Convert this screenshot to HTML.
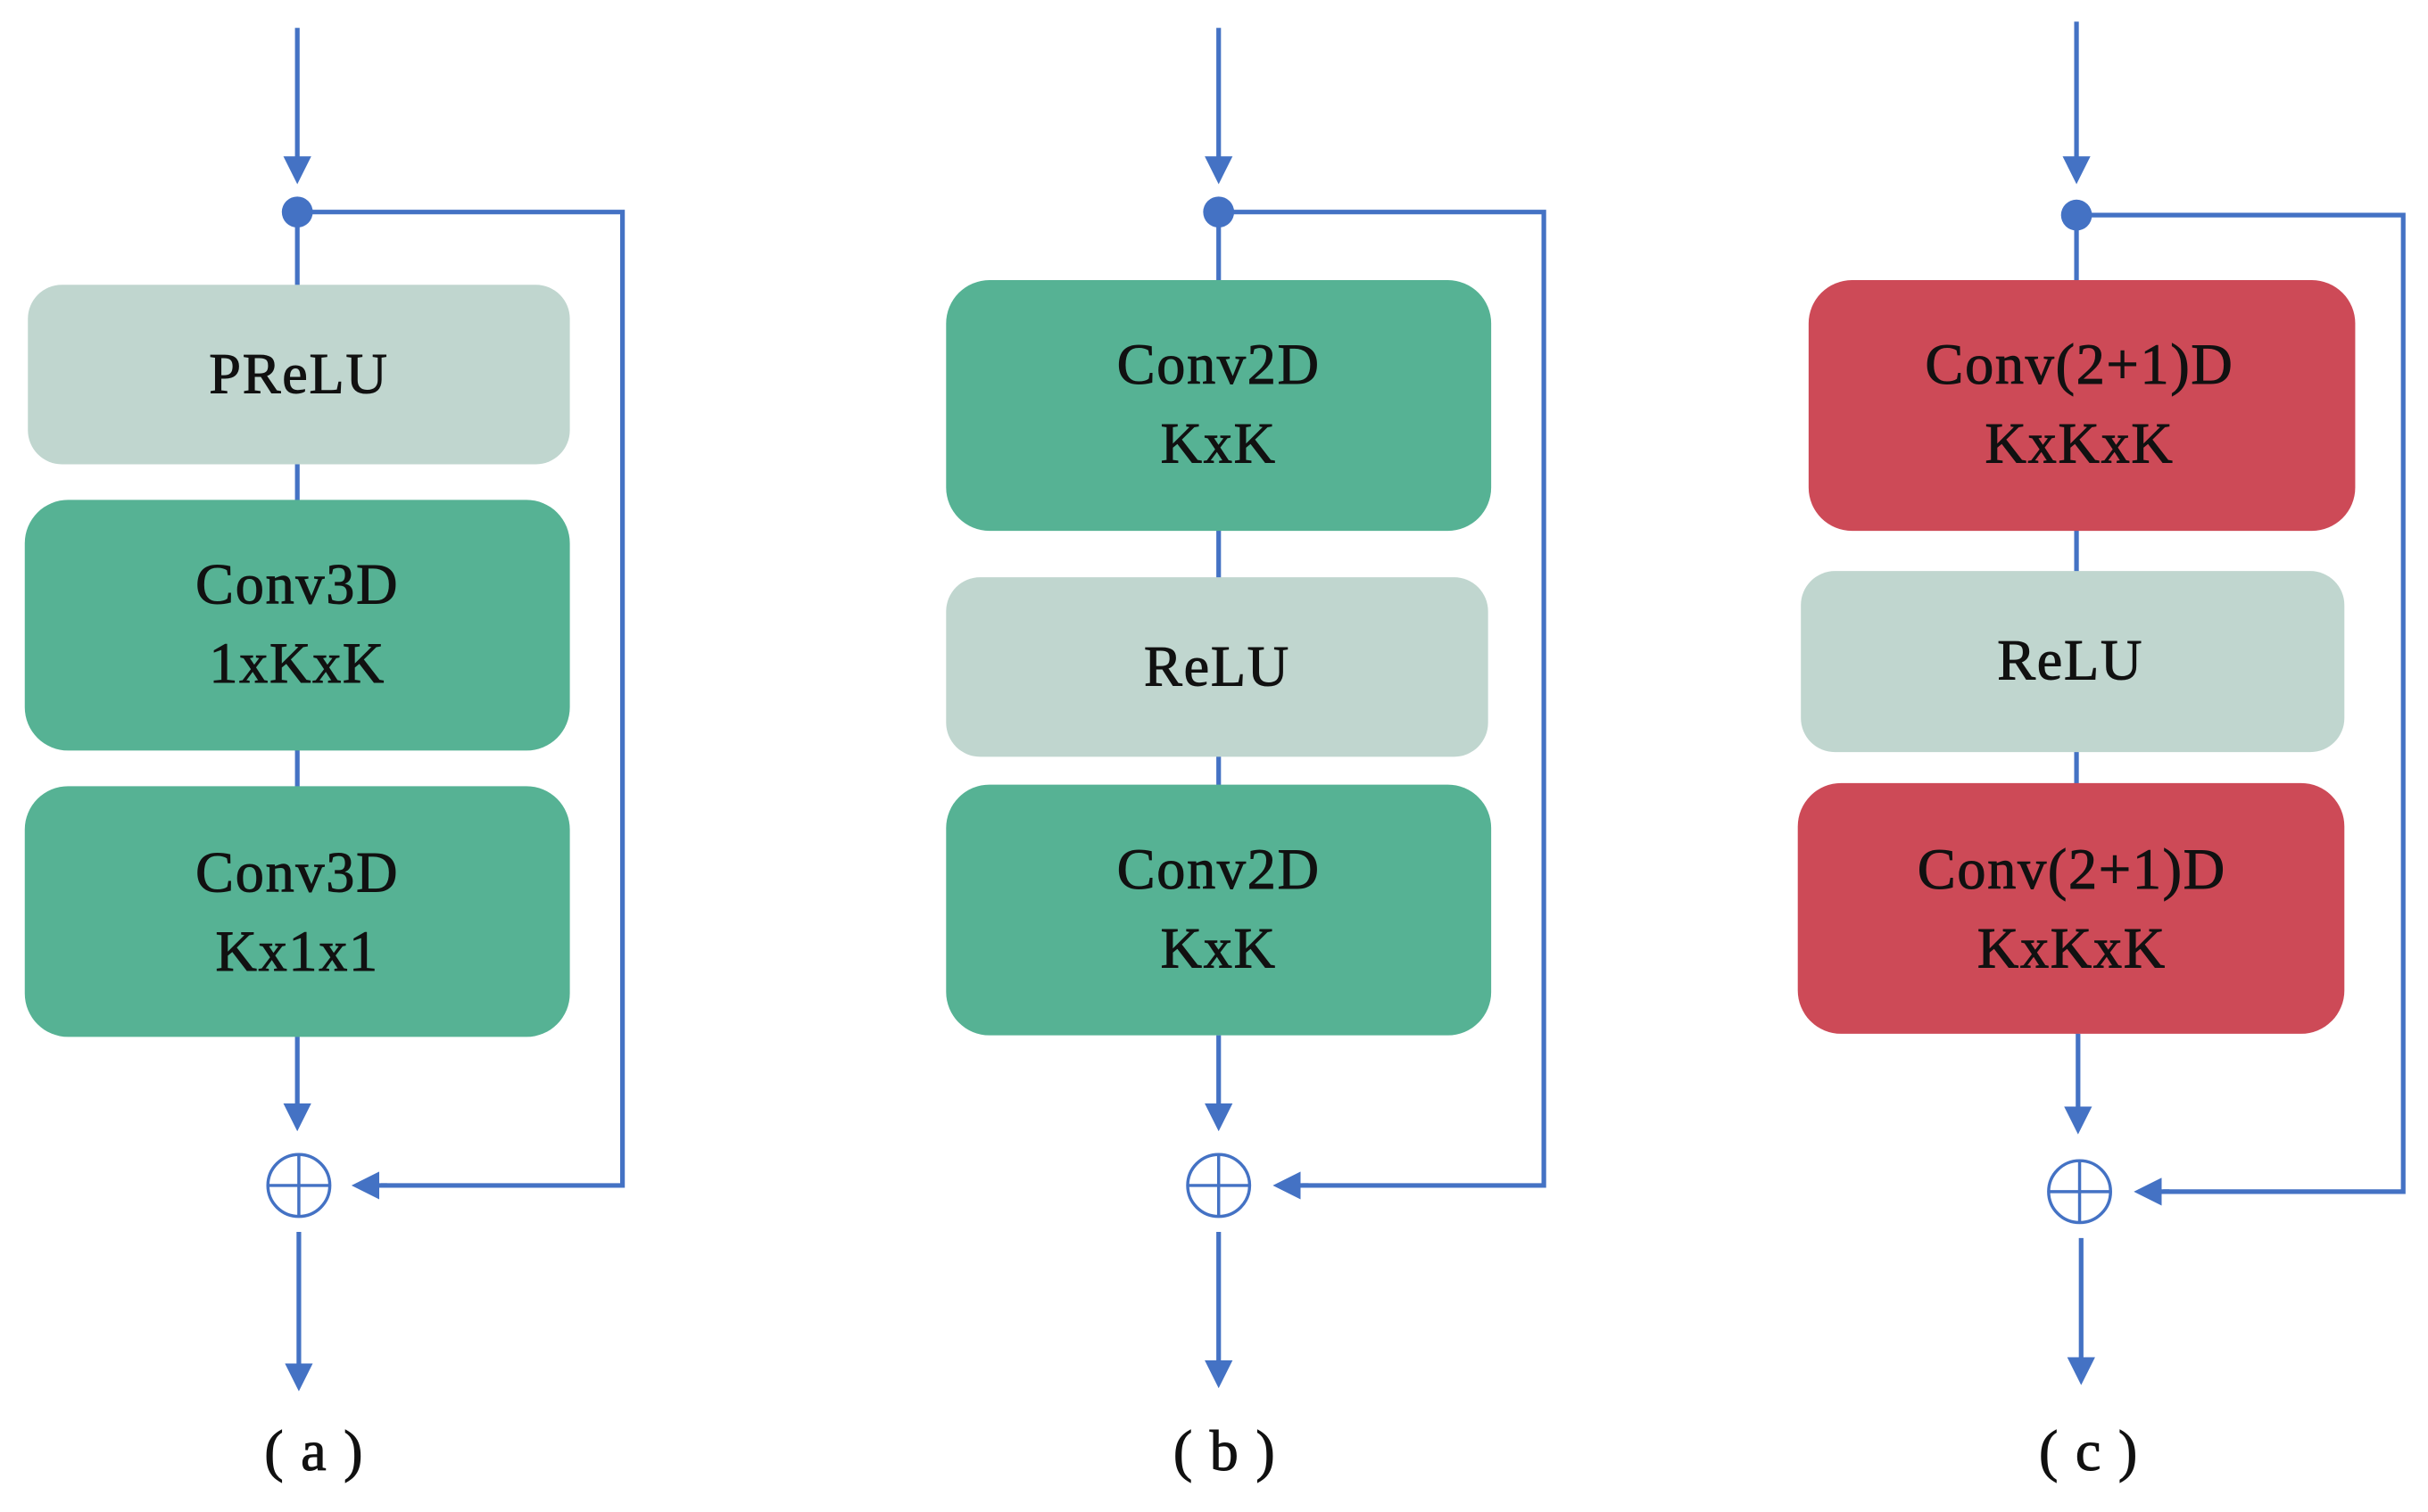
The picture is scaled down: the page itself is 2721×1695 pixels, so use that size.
<!DOCTYPE html>
<html><head><meta charset="utf-8"><style>html,body{margin:0;padding:0;background:#fff}svg{display:block}</style></head>
<body>
<svg width="2721" height="1695" viewBox="0 0 1568 977" preserveAspectRatio="none" xmlns="http://www.w3.org/2000/svg" font-family="'Liberation Serif', serif" font-size="37" letter-spacing="1" text-anchor="middle">
<defs>
<marker id="ah" markerWidth="6" markerHeight="6" refX="5" refY="3" orient="auto" markerUnits="strokeWidth"><path d="M0,0 L6,3 L0,6 z" fill="#4472C4"/></marker>
</defs>
<g stroke="#4472C4" stroke-width="3" fill="none">
<line x1="192" y1="18" x2="192" y2="116" marker-end="url(#ah)"/>
<line x1="192" y1="137" x2="192" y2="670"/>
<line x1="192" y1="670" x2="192" y2="728" marker-end="url(#ah)"/>
<polyline points="192,137 402,137 402,766 246,766" />
<line x1="250" y1="766" x2="230" y2="766" marker-end="url(#ah)"/>
<line x1="193" y1="796" x2="193" y2="896" marker-end="url(#ah)"/>
<line x1="787" y1="18" x2="787" y2="116" marker-end="url(#ah)"/>
<line x1="787" y1="137" x2="787" y2="669"/>
<line x1="787" y1="669" x2="787" y2="728" marker-end="url(#ah)"/>
<polyline points="787,137 997,137 997,766 841,766"/>
<line x1="845" y1="766" x2="825" y2="766" marker-end="url(#ah)"/>
<line x1="787" y1="796" x2="787" y2="894" marker-end="url(#ah)"/>
<line x1="1341" y1="14" x2="1341" y2="116" marker-end="url(#ah)"/>
<line x1="1341" y1="139" x2="1341" y2="668"/>
<line x1="1342" y1="668" x2="1342" y2="730" marker-end="url(#ah)"/>
<polyline points="1341,139 1552,139 1552,770 1397,770"/>
<line x1="1401" y1="770" x2="1381" y2="770" marker-end="url(#ah)"/>
<line x1="1344" y1="800" x2="1344" y2="892" marker-end="url(#ah)"/>
</g>
<g fill="#4472C4"><circle cx="192" cy="137" r="10"/><circle cx="787" cy="137" r="10"/><circle cx="1341" cy="139" r="10"/></g>
<g stroke="#4472C4" stroke-width="2" fill="#fff">
<circle cx="193" cy="766" r="20"/><line x1="173" y1="766" x2="213" y2="766"/><line x1="193" y1="746" x2="193" y2="786"/>
<circle cx="787" cy="766" r="20"/><line x1="767" y1="766" x2="807" y2="766"/><line x1="787" y1="746" x2="787" y2="786"/>
<circle cx="1343" cy="770" r="20"/><line x1="1323" y1="770" x2="1363" y2="770"/><line x1="1343" y1="750" x2="1343" y2="790"/>
</g>
<rect x="18" y="184" width="350" height="116" rx="22" fill="#C0D6CF"/>
<rect x="16" y="323" width="352" height="162" rx="28" fill="#56B294"/>
<rect x="16" y="508" width="352" height="162" rx="28" fill="#56B294"/>
<rect x="611" y="181" width="352" height="162" rx="28" fill="#56B294"/>
<rect x="611" y="373" width="350" height="116" rx="22" fill="#C0D6CF"/>
<rect x="611" y="507" width="352" height="162" rx="28" fill="#56B294"/>
<rect x="1168" y="181" width="353" height="162" rx="28" fill="#CD4A57"/>
<rect x="1163" y="369" width="351" height="117" rx="22" fill="#C0D6CF"/>
<rect x="1161" y="506" width="353" height="162" rx="28" fill="#CD4A57"/>
<g fill="#111" stroke="#111" stroke-width="0.6">
<text x="193" y="254">PReLU</text>
<text x="192" y="390">Conv3D</text><text x="192" y="441">1xKxK</text>
<text x="192" y="576">Conv3D</text><text x="192" y="627">Kx1x1</text>
<text x="787" y="248">Conv2D</text><text x="787" y="299">KxK</text>
<text x="786" y="443">ReLU</text>
<text x="787" y="574">Conv2D</text><text x="787" y="625">KxK</text>
<text x="1343" y="248">Conv(2+1)D</text><text x="1343" y="299">KxKxK</text>
<text x="1337" y="439">ReLU</text>
<text x="1338" y="574">Conv(2+1)D</text><text x="1338" y="625">KxKxK</text>
<text x="203" y="950">( a )</text>
<text x="791" y="950">( b )</text>
<text x="1349" y="950">( c )</text>
</g>
</svg>
</body></html>
